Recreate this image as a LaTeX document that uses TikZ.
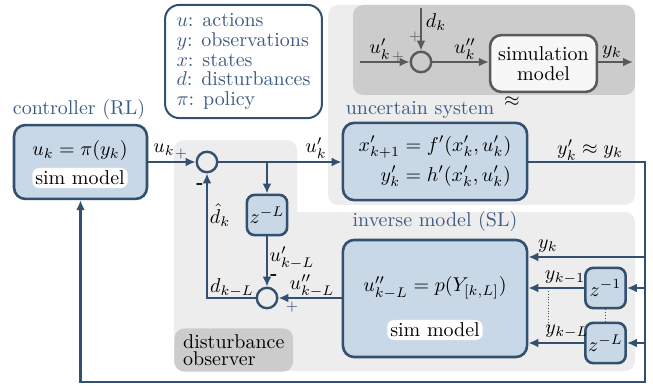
\documentclass[tikz,border=0pt]{standalone}
\usepackage{amsmath,amssymb}
\usetikzlibrary{arrows.meta,positioning,calc}
\definecolor{lineblue}{HTML}{34506F}
\definecolor{blockfill}{HTML}{C9D8E6}
\definecolor{labelblue}{HTML}{3D5B84}
\definecolor{bglight}{HTML}{EDEDED}
\definecolor{bgdark}{HTML}{CCCCCC}
\definecolor{simgray}{HTML}{5A5A5A}
\tikzset{
  blk/.style={draw=lineblue,fill=blockfill,line width=1.3pt,rounded corners=0.2cm,align=center},
  dly/.style={draw=lineblue,fill=blockfill,line width=1.3pt,rounded corners=0.14cm,minimum size=0.71cm,inner sep=0pt},
  sumnode/.style={circle,draw=lineblue,line width=1.2pt,minimum size=0.36cm,inner sep=0pt},
  sig/.style={draw=lineblue,line width=1.1pt,-{Latex[length=5pt,width=4.5pt]}},
  simsig/.style={draw=simgray,line width=1.1pt,-{Latex[length=5pt,width=4.5pt]}},
  pill/.style={fill=white,rounded corners=3.5pt,inner sep=1.5pt},
  region/.style={fill=bglight,rounded corners=5pt},
  regiondark/.style={fill=bgdark,rounded corners=5pt},
  grouplbl/.style={text=labelblue},
  lbl/.style={inner sep=1pt},
  plus/.style={font=\scriptsize,inner sep=0pt},
  minus/.style={font=\small\bfseries,inner sep=0pt},
}

\begin{document}
\begin{tikzpicture}[x=0.0176cm,y=-0.0176cm]
\useasboundingbox (0,0) rectangle (653,386);
% grey regions
\fill[region] (328,5) rectangle (635,205);
\fill[regiondark] (353,5) rectangle (635,95);
\fill[region] (174,140) rectangle (297,371);
\fill[region] (174,212) rectangle (635,371);
\node[regiondark,align=left,anchor=north west,minimum width=2.09cm,minimum height=0.76cm,inner sep=2pt] (obslbl) at (174,328) {disturbance\\[-3.5pt]observer};

% legend
\node[draw=lineblue,line width=1pt,fill=white,rounded corners=0.25cm,align=left,text=labelblue,
  minimum width=2.76cm,minimum height=1.99cm] (legend) at (243.5,61.5)
  {$u$: actions\\[-2pt]$y$: observations\\[-2pt]$x$: states\\[-2pt]$d$: disturbances\\[-2pt]$\pi$: policy};

% controller
\node[grouplbl] (ctrllbl) at (79,110) {controller (RL)};
\node[blk,minimum width=2.34cm,minimum height=1.30cm] (ctrl) at (80.5,162) {};
\node (ctrleq) at (80,151) {$u_k=\pi(y_k)$};
\node[pill] (ctrlsim) at (80,178) {sim model};

% uncertain system
\node[circle,draw=simgray,line width=1.2pt,minimum size=0.36cm,inner sep=0pt] (sum3) at (421,62) {};
\node[draw=simgray,fill=white!94!gray,line width=1.3pt,rounded corners=0.2cm,align=center,
  minimum width=1.88cm,minimum height=1cm] (simmod) at (543.5,63.5) {simulation\\[-2pt]model};
\coordinate (simin) at (360,62);
\coordinate (dkin) at (421,8);
\coordinate (simout) at (633,62);
\draw[simsig] (simin) -- (sum3);
\draw[simsig] (dkin) -- (sum3);
\draw[simsig] (sum3) -- (simmod.west |- sum3);
\draw[simsig] (simmod.east |- sum3) -- (simout);
\node[lbl] (simu) at (380,49) {$u'_k$};
\node[plus,text=simgray] (simp1) at (398,57) {+};
\node[lbl] (simd) at (436,22) {$d_k$};
\node[plus,text=simgray] (simp2) at (415,37) {+};
\node[lbl] (simuu) at (465,49) {$u''_k$};
\node[lbl] (simy) at (612,52) {$y_k$};

\node[grouplbl] (syslbl) at (420,110) {uncertain system};
\node[lbl] (approx) at (512,102) {$\approx$};
\node[blk,minimum width=3.24cm,minimum height=1.36cm] (sys) at (435,161.5)
  {$\begin{aligned} x'_{k+1}&=f'(x'_k,u'_k)\\ y'_k&=h'(x'_k,u'_k)\end{aligned}$};

% disturbance observer
\node[sumnode] (sum1) at (207,162) {};
\node[sumnode] (sum2) at (267,298) {};
\node[dly] (zobs) at (267,215) {$z^{-L}$};
\coordinate (br) at (267,162);

% inverse model
\node[grouplbl] (invlbl) at (435,222) {inverse model (SL)};
\node[blk,minimum width=3.24cm,minimum height=2.06cm] (inv) at (435,298.5) {};
\node (inveq) at (435,288) {$u''_{k-L}=p(Y_{[k,L]})$};
\node[pill] (invsim) at (435,330) {sim model};
\node[dly] (zone) at (605.5,288) {$z^{-1}$};
\node[dly] (zlag) at (605.5,343) {$z^{-L}$};

% signals
\draw[sig] (ctrl.east |- sum1) -- (sum1);
\draw[sig] (sum1) -- (sys.west |- sum1);
\draw[sig] (br) -- (zobs);
\draw[sig] (zobs) -- (sum2);
\draw[sig] (inv.west |- sum2) -- (sum2);
\draw[sig] (sum2.west) -| (sum1.south);

\coordinate (bcorner) at (645,382);
\coordinate (tapk) at (645,257);
\coordinate (tapone) at (645,288);
\coordinate (taplag) at (645,343);
\draw[sig] (sys.east |- sum1) -| (bcorner) -| (ctrl.south);
\draw[sig] (tapk) -- (tapk -| inv.east);
\draw[sig] (tapone) -- (zone);
\draw[sig] (zone) -- (zone -| inv.east);
\draw[sig] (taplag) -- (zlag);
\draw[sig] (zlag) -- (zlag -| inv.east);
\draw[lineblue,densely dotted,thin] (zone) -- (zlag);
\coordinate (dtop) at (548,291);
\coordinate (dbot) at (548,334);
\draw[lineblue,densely dotted,thin] (dtop) -- (dbot);

% labels
\node[lbl] (uk) at (164,150) {$u_k$};
\node[plus,text=lineblue] (p1) at (181,154) {+};
\node[lbl] (ukp) at (316,148) {$u'_k$};
\node[lbl] (ykout) at (590,150) {$y'_k\approx y_k$};
\node[minus] (m1) at (200,186) {-};
\node[lbl] (dhat) at (220,215) {$\hat d_k$};
\node[lbl] (dkl) at (232,288) {$d_{k-L}$};
\node[lbl] (ukl) at (292,258) {$u'_{k-L}$};
\node[minus] (m2) at (274,277) {-};
\node[lbl] (uukl) at (312,286) {$u''_{k-L}$};
\node[plus,text=lineblue] (p2) at (292,307) {+};
\node[lbl] (yk) at (548,246) {$y_k$};
\node[lbl] (ykone) at (565,278) {$y_{k-1}$};
\node[lbl] (yklag) at (567,332) {$y_{k-L}$};
\end{tikzpicture}
\end{document}
